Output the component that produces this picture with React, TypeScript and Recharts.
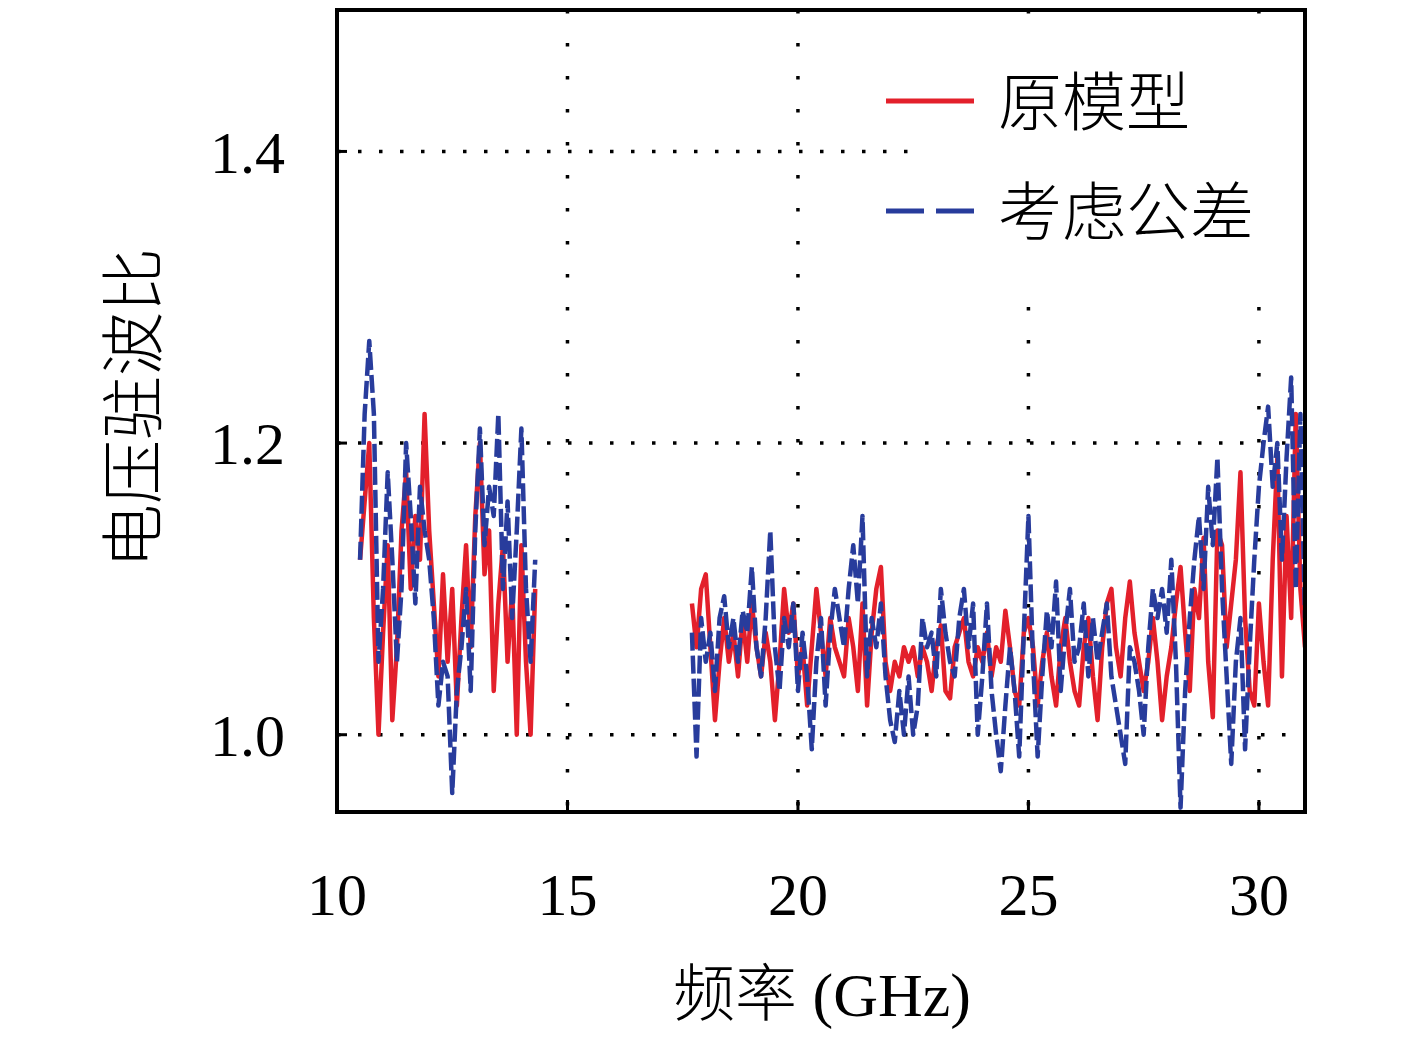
import { LineChart, Line, XAxis, YAxis, CartesianGrid, Legend } from 'recharts'

const RED = '#e3202b'
const BLUE = '#283c9c'
const NUM_FONT = '"Liberation Serif", "DejaVu Serif", serif'
const CJK_FONT = '"Noto Sans CJK SC", "Noto Sans CJK JP", sans-serif'

// frequency sweep (GHz)
const leftFreq = [
  10.5, 10.6, 10.7, 10.8, 10.9, 11.0, 11.1, 11.2, 11.3, 11.4, 11.5, 11.6, 11.7,
  11.8, 11.9, 12.0, 12.1, 12.2, 12.3, 12.4, 12.5, 12.6, 12.7, 12.8, 12.9, 13.0,
  13.1, 13.2, 13.3, 13.4, 13.5, 13.6, 13.7, 13.8, 13.9, 14.0, 14.1, 14.2, 14.3,
]
const leftOrig = [
  1.12, 1.16, 1.2, 1.08, 1.0, 1.07, 1.13, 1.01, 1.06, 1.14, 1.18, 1.1, 1.15,
  1.12, 1.22, 1.14, 1.09, 1.04, 1.11, 1.05, 1.1, 1.02, 1.08, 1.13, 1.06, 1.15,
  1.2, 1.11, 1.14, 1.03, 1.09, 1.13, 1.05, 1.1, 1.0, 1.13, 1.05, 1.0, 1.1,
]
const leftTol = [
  1.12, 1.22, 1.27, 1.22, 1.05, 1.1, 1.18, 1.12, 1.05, 1.1, 1.2, 1.15, 1.09,
  1.17, 1.14, 1.12, 1.08, 1.02, 1.05, 1.04, 0.96, 1.03, 1.06, 1.1, 1.03, 1.14,
  1.21, 1.13, 1.17, 1.15, 1.22, 1.1, 1.16, 1.08, 1.14, 1.21, 1.1, 1.05, 1.12,
]

const rightFreq = [
  17.7, 17.8, 17.9,
  18.0, 18.1, 18.2, 18.3, 18.4, 18.5, 18.6, 18.7, 18.8, 18.9,
  19.0, 19.1, 19.2, 19.3, 19.4, 19.5, 19.6, 19.7, 19.8, 19.9,
  20.0, 20.1, 20.2, 20.3, 20.4, 20.5, 20.6, 20.7, 20.8, 20.9,
  21.0, 21.1, 21.2, 21.3, 21.4, 21.5, 21.6, 21.7, 21.8, 21.9,
  22.0, 22.1, 22.2, 22.3, 22.4, 22.5, 22.6, 22.7, 22.8, 22.9,
  23.0, 23.1, 23.2, 23.3, 23.4, 23.5, 23.6, 23.7, 23.8, 23.9,
  24.0, 24.1, 24.2, 24.3, 24.4, 24.5, 24.6, 24.7, 24.8, 24.9,
  25.0, 25.1, 25.2, 25.3, 25.4, 25.5, 25.6, 25.7, 25.8, 25.9,
  26.0, 26.1, 26.2, 26.3, 26.4, 26.5, 26.6, 26.7, 26.8, 26.9,
  27.0, 27.1, 27.2, 27.3, 27.4, 27.5, 27.6, 27.7, 27.8, 27.9,
  28.0, 28.1, 28.2, 28.3, 28.4, 28.5, 28.6, 28.7, 28.8, 28.9,
  29.0, 29.1, 29.2, 29.3, 29.4, 29.5, 29.6, 29.7, 29.8, 29.9,
  30.0, 30.1, 30.2, 30.3, 30.4, 30.5, 30.6, 30.7, 30.8, 30.9,
  31.0,
]
const rightOrig = [
  1.09, 1.06, 1.1, 1.11, 1.06, 1.01, 1.05, 1.08, 1.05, 1.07, 1.04, 1.08, 1.05,
  1.09, 1.06, 1.04, 1.07, 1.05, 1.01, 1.05, 1.1, 1.07, 1.09, 1.04, 1.06, 1.02,
  1.06, 1.1, 1.07, 1.04, 1.08, 1.06,
  1.05, 1.04, 1.08, 1.06, 1.03, 1.09, 1.02, 1.07, 1.1, 1.115, 1.05, 1.03, 1.05,
  1.04, 1.06, 1.05, 1.06, 1.04, 1.06, 1.05, 1.03, 1.06, 1.075, 1.03, 1.025, 1.06,
  1.07, 1.08, 1.05, 1.04, 1.06, 1.05, 1.07, 1.04, 1.06, 1.05,
  1.085, 1.06, 1.03, 1.02, 1.07, 1.08, 1.06, 1.02, 1.05, 1.07, 1.04, 1.02, 1.06,
  1.08, 1.05, 1.03, 1.02, 1.06, 1.08, 1.04, 1.01, 1.06, 1.09, 1.1, 1.06, 1.04,
  1.08, 1.105, 1.07, 1.05, 1.03, 1.05, 1.08,
  1.05, 1.01, 1.04, 1.06, 1.09, 1.115, 1.07, 1.03, 1.1, 1.08, 1.135, 1.05, 1.012,
  1.14, 1.13, 1.06, 1.09, 1.12, 1.18, 1.08, 1.03, 1.02, 1.09, 1.05, 1.02, 1.12,
  1.19, 1.04, 1.15, 1.08, 1.22, 1.1, 1.06,
]
const rightTol = [
  1.07, 0.985, 1.08, 1.05, 1.07, 1.03, 1.08, 1.095, 1.06, 1.08, 1.05, 1.085, 1.07,
  1.115, 1.06, 1.04, 1.08, 1.14, 1.06, 1.03, 1.08, 1.06, 1.09, 1.03, 1.07, 1.04,
  0.99, 1.05, 1.08, 1.02, 1.07, 1.1,
  1.08, 1.06, 1.1, 1.13, 1.09, 1.15, 1.04, 1.08, 1.06, 1.09, 1.04, 1.01, 0.995,
  1.03, 1.0, 1.04, 1.0, 1.02, 1.08, 1.06, 1.07, 1.04, 1.1, 1.07, 1.05, 1.04,
  1.08, 1.1, 1.06, 1.09, 1.0, 1.04, 1.09, 1.03, 1.0, 0.975,
  1.02, 1.06, 1.03, 0.985, 1.07, 1.15, 1.05, 0.985, 1.04, 1.085, 1.06, 1.105, 1.03,
  1.07, 1.1, 1.05, 1.06, 1.09, 1.04, 1.08, 1.05, 1.07, 1.09, 1.04, 1.02, 1.0,
  0.98, 1.06, 1.05, 1.03, 1.0, 1.06, 1.1,
  1.08, 1.1, 1.07, 1.12, 1.05, 0.95, 1.03, 1.08, 1.12, 1.15, 1.1, 1.17, 1.13,
  1.19, 1.1, 1.04, 0.98, 1.05, 1.08, 0.99, 1.06, 1.12, 1.17, 1.2, 1.225, 1.17,
  1.2, 1.12, 1.19, 1.245, 1.1, 1.22, 1.08,
]

const xTicks = [10, 15, 20, 25, 30]
const yTicks = [1.0, 1.2, 1.4]
const seriesNames = ['原模型', '考虑公差']

// no measurement between the two bands: a null row breaks both lines
const data = [
  ...leftFreq.map((f, i) => ({ f, orig: leftOrig[i], tol: leftTol[i] })),
  { f: 16, orig: null, tol: null },
  ...rightFreq.map((f, i) => ({ f, orig: rightOrig[i], tol: rightTol[i] })),
]

const frame = { stroke: '#000', strokeWidth: 4, strokeLinecap: 'square' as const, strokeDasharray: 'none' }
const tickStroke = { stroke: '#000', strokeWidth: 3 }

function XTitle() {
  return (
    <text x={822} y={1016} textAnchor="middle" fontSize={62} fill="#000">
      <tspan fontFamily={CJK_FONT} fontWeight={300}>频率</tspan>
      <tspan fontFamily={NUM_FONT}> (GHz)</tspan>
    </text>
  )
}

function YTitle() {
  return (
    <text
      transform="translate(128,408) rotate(-90)"
      textAnchor="middle"
      dominantBaseline="central"
      fontSize={64}
      fontFamily={CJK_FONT}
      fontWeight={300}
      fill="#000"
    >
      电压驻波比
    </text>
  )
}

function LegendBox() {
  const row = (top: number, label: string, color: string, dashed: boolean) => (
    <div style={{ position: 'absolute', left: 0, top, width: '100%', height: 80 }}>
      <svg style={{ position: 'absolute', left: 3, top: 34 }} width={94} height={12}>
        <line
          x1={3}
          y1={6}
          x2={91}
          y2={6}
          stroke={color}
          strokeWidth={5}
          strokeDasharray={dashed ? '38 12' : undefined}
        />
      </svg>
      <span
        style={{
          position: 'absolute',
          left: 118,
          top: -4,
          lineHeight: '80px',
          fontSize: 64,
          fontWeight: 300,
          fontFamily: CJK_FONT,
          color: '#000',
          whiteSpace: 'nowrap',
        }}
      >
        {label}
      </span>
    </div>
  )
  return (
    <div
      style={{
        position: 'relative',
        width: 408,
        height: 282,
        background: 'linear-gradient(to right, rgba(255,255,255,0) 37px, #fff 37px)',
      }}
    >
      {row(36, seriesNames[0], RED, false)}
      {row(146, seriesNames[1], BLUE, true)}
    </div>
  )
}

export default function App() {
  return (
    <div style={{ position: 'absolute', left: 0, top: 0, background: '#fff' }}>
      <LineChart width={1417} height={1042} data={data} margin={{ top: 0, right: 102, bottom: 0, left: 0 }}>
        <CartesianGrid vertical={false} stroke="#000" strokeWidth={3.5} strokeDasharray="3.5 17.5" />
        <CartesianGrid horizontal={false} stroke="#000" strokeWidth={3.5} strokeDasharray="3.5 29.5" />
        <XAxis
          dataKey="f"
          type="number"
          domain={[10, 31]}
          ticks={xTicks}
          interval={0}
          allowDataOverflow
          height={230}
          tickSize={-12}
          tickMargin={72}
          axisLine={frame}
          tickLine={tickStroke}
          tick={{ fill: '#000', fontSize: 60, fontFamily: NUM_FONT }}
          label={<XTitle />}
        />
        <XAxis
          xAxisId="top"
          orientation="top"
          dataKey="f"
          type="number"
          domain={[10, 31]}
          ticks={xTicks}
          interval={0}
          allowDataOverflow
          height={10}
          tickSize={-12}
          axisLine={frame}
          tickLine={tickStroke}
          tick={false}
        />
        <YAxis
          type="number"
          domain={[0.947, 1.497]}
          ticks={yTicks}
          interval={0}
          allowDataOverflow
          width={337}
          tickSize={-10}
          tickMargin={62}
          tickFormatter={(v: number) => v.toFixed(1)}
          axisLine={frame}
          tickLine={tickStroke}
          tick={{ fill: '#000', fontSize: 60, fontFamily: NUM_FONT }}
          label={<YTitle />}
        />
        <YAxis
          yAxisId="right"
          orientation="right"
          type="number"
          domain={[0.947, 1.497]}
          ticks={yTicks}
          interval={0}
          allowDataOverflow
          width={10}
          tickSize={-10}
          axisLine={frame}
          tickLine={tickStroke}
          tick={false}
        />
        <Legend
          layout="horizontal"
          verticalAlign="middle"
          align="center"
          content={<LegendBox />}
          wrapperStyle={{ left: 880, top: 25, width: 408, height: 282 }}
        />
        <Line
          dataKey="orig"
          name={seriesNames[0]}
          stroke={RED}
          strokeWidth={4.5}
          strokeLinejoin="round"
          dot={false}
          activeDot={false}
          connectNulls={false}
          isAnimationActive={false}
        />
        <Line
          dataKey="tol"
          name={seriesNames[1]}
          stroke={BLUE}
          strokeWidth={4.5}
          strokeLinejoin="round"
          strokeDasharray="18 5"
          dot={false}
          activeDot={false}
          connectNulls={false}
          isAnimationActive={false}
        />
      </LineChart>
    </div>
  )
}
